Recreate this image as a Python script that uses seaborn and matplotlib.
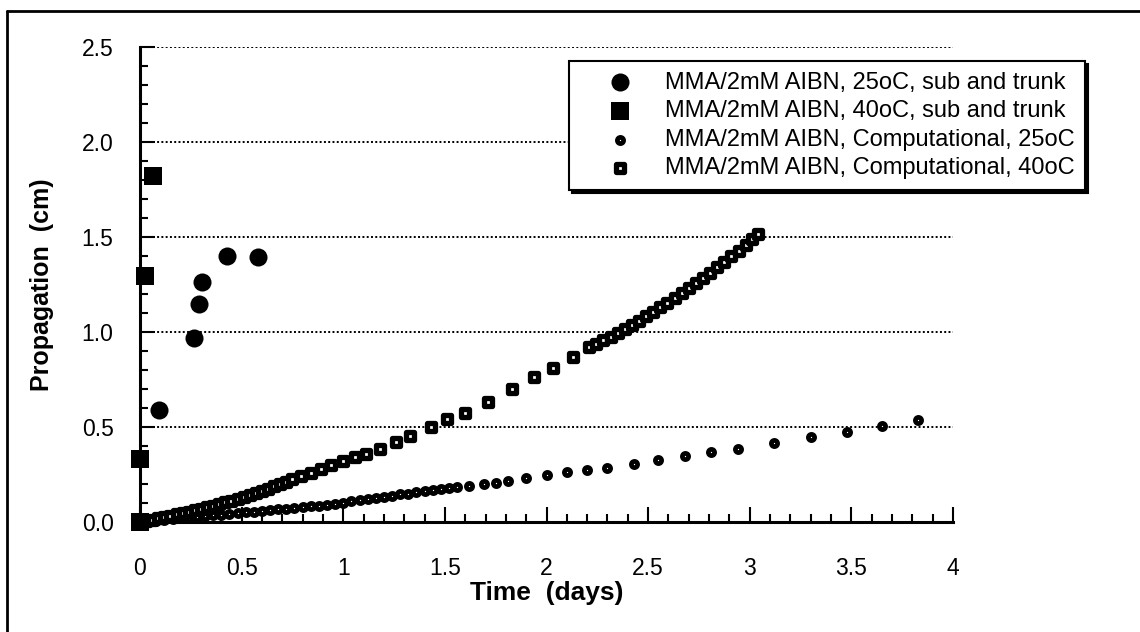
import matplotlib
matplotlib.use("Agg")
import matplotlib.pyplot as plt
from matplotlib.ticker import MultipleLocator, FormatStrFormatter, FuncFormatter
from matplotlib.lines import Line2D
import seaborn as sns

# experimental points (big markers)
exp25_x = [0.094, 0.266, 0.290, 0.305, 0.428, 0.583]
exp25_y = [0.59, 0.97, 1.147, 1.263, 1.40, 1.395]

exp40_x = [0.0, 0.0, 0.025, 0.064]
exp40_y = [0.0, 0.33, 1.295, 1.82]

# computational 25oC (small circles)
comp25_x = [0.00, 0.04, 0.08, 0.12, 0.16, 0.20, 0.24, 0.28, 0.32, 0.36, 0.40, 0.44,
            0.48, 0.52, 0.56, 0.60, 0.64, 0.68, 0.72, 0.76, 0.80, 0.84, 0.88, 0.92,
            0.96, 1.00, 1.04, 1.08, 1.12, 1.16, 1.20, 1.24, 1.28, 1.32, 1.36, 1.40,
            1.44, 1.48, 1.52, 1.56, 1.62, 1.69, 1.75, 1.81, 1.90, 2.00, 2.10, 2.20,
            2.30, 2.43, 2.55, 2.68, 2.81, 2.94, 3.12, 3.30, 3.48, 3.65, 3.83]
comp25_y = [0.000, 0.003, 0.007, 0.011, 0.015, 0.019, 0.023, 0.027, 0.031, 0.035, 0.039, 0.043,
            0.047, 0.051, 0.055, 0.059, 0.063, 0.067, 0.071, 0.075, 0.079, 0.083, 0.087, 0.091,
            0.096, 0.101, 0.110, 0.116, 0.121, 0.126, 0.132, 0.139, 0.145, 0.150, 0.156, 0.162,
            0.167, 0.173, 0.178, 0.184, 0.190, 0.199, 0.207, 0.217, 0.232, 0.247, 0.261, 0.274,
            0.286, 0.308, 0.329, 0.350, 0.370, 0.385, 0.416, 0.448, 0.474, 0.505, 0.537]

# computational 40oC (small squares)
comp40_x = [0.00, 0.03, 0.06, 0.09, 0.12, 0.15, 0.18, 0.21, 0.24, 0.27, 0.30, 0.33,
            0.36, 0.39, 0.42, 0.45, 0.48, 0.51, 0.54, 0.57, 0.60, 0.63, 0.66, 0.69,
            0.72, 0.75, 0.79, 0.84, 0.89, 0.94, 1.00, 1.06, 1.11, 1.18, 1.26, 1.33,
            1.43, 1.51, 1.60, 1.71, 1.83, 1.94, 2.03, 2.13,
            2.21, 2.245, 2.28, 2.315, 2.35, 2.385, 2.42, 2.455, 2.49, 2.525, 2.56, 2.595,
            2.63, 2.665, 2.70, 2.735, 2.77, 2.805, 2.84, 2.875, 2.91, 2.945, 2.98, 3.01, 3.04]
comp40_y = [0.000, 0.006, 0.013, 0.020, 0.027, 0.034, 0.041, 0.048, 0.055, 0.062, 0.070, 0.077,
            0.086, 0.095, 0.103, 0.112, 0.121, 0.130, 0.141, 0.152, 0.164, 0.176, 0.188, 0.200,
            0.212, 0.224, 0.240, 0.259, 0.279, 0.299, 0.320, 0.341, 0.360, 0.385, 0.420, 0.455,
            0.500, 0.540, 0.575, 0.630, 0.700, 0.765, 0.810, 0.870,
            0.919, 0.937, 0.956, 0.976, 0.995, 1.016, 1.038, 1.060, 1.083, 1.107, 1.131, 1.155,
            1.180, 1.205, 1.230, 1.257, 1.284, 1.312, 1.340, 1.369, 1.398, 1.428, 1.458, 1.487, 1.516]

labels = ["MMA/2mM AIBN, 25oC, sub and trunk",
          "MMA/2mM AIBN, 40oC, sub and trunk",
          "MMA/2mM AIBN, Computational, 25oC",
          "MMA/2mM AIBN, Computational, 40oC"]

sns.set_style("white")
plt.rcParams['font.family'] = ['Liberation Sans', 'DejaVu Sans']
plt.rcParams['text.color'] = 'black'
plt.rcParams['axes.labelcolor'] = 'black'
plt.rcParams['xtick.color'] = 'black'
plt.rcParams['ytick.color'] = 'black'

fig = plt.figure(figsize=(11.4, 6.32), dpi=100)
ax = fig.add_axes([0.1228, 0.174, 0.7132, 0.7516])

sns.scatterplot(x=exp25_x, y=exp25_y, ax=ax, marker='o', s=169, color='black',
                linewidth=0, label=labels[0], clip_on=False, zorder=5)
sns.scatterplot(x=exp40_x, y=exp40_y, ax=ax, marker='s', s=187, color='black',
                linewidth=0, label=labels[1], clip_on=False, zorder=5)
sns.scatterplot(x=comp25_x, y=comp25_y, ax=ax, marker='o', s=20, facecolor='white',
                edgecolor='black', linewidth=3.4, label=labels[2], clip_on=False, zorder=4)
sns.scatterplot(x=comp40_x, y=comp40_y, ax=ax, marker='s', s=27, facecolor='white',
                edgecolor='black', linewidth=3.8, label=labels[3], clip_on=False, zorder=4)

ax.set_xlim(0, 4)
ax.set_ylim(0, 2.5)
ax.xaxis.set_major_locator(MultipleLocator(0.5))
ax.xaxis.set_minor_locator(MultipleLocator(0.1))
ax.yaxis.set_major_locator(MultipleLocator(0.5))
ax.yaxis.set_minor_locator(MultipleLocator(0.1))
ax.yaxis.set_major_formatter(FormatStrFormatter('%.1f'))
ax.xaxis.set_major_formatter(FuncFormatter(lambda v, p: f"{v:g}"))

ax.tick_params(axis='both', which='both', left=True, bottom=True, direction='in',
               width=1.5, colors='black')
ax.tick_params(axis='both', which='major', length=11, labelsize=16.5)
ax.tick_params(axis='both', which='minor', length=6)
ax.tick_params(axis='x', which='major', pad=25)
ax.tick_params(axis='y', which='major', pad=19)

for side in ['top', 'right']:
    ax.spines[side].set_visible(False)
for side in ['left', 'bottom']:
    ax.spines[side].set_linewidth(2.2)
    ax.spines[side].set_color('black')

ax.grid(axis='y', which='major', linestyle=(0, (1, 1.2)), color='black', linewidth=1.4)
ax.grid(axis='x', visible=False)

ax.set_xlabel("Time  (days)", fontsize=19, fontweight='bold', labelpad=1)
ax.set_ylabel("Propagation  (cm)", fontsize=18, fontweight='bold', labelpad=20)

leg = ax.legend(loc='upper left', bbox_to_anchor=(569 / 1140, 1 - 61 / 632),
                bbox_transform=fig.transFigure, fontsize=17, frameon=True,
                fancybox=False, shadow={'facecolor': 'black', 'edgecolor': 'black', 'alpha': 1},
                handlelength=3.39, handletextpad=0.21, borderpad=0.45, labelspacing=0.28,
                borderaxespad=0)
leg.get_frame().set_edgecolor('black')
leg.get_frame().set_linewidth(1.5)
leg.get_frame().set_alpha(1)
leg.set_zorder(10)

# page frame (top and left edges of the scanned figure)
fig.add_artist(Line2D([7 / 1140, 1], [1 - 11 / 632, 1 - 11 / 632], transform=fig.transFigure,
                      color='black', linewidth=2))
fig.add_artist(Line2D([7 / 1140, 7 / 1140], [0, 1 - 11 / 632], transform=fig.transFigure,
                      color='black', linewidth=2))

fig.savefig("out.png", dpi=100)
